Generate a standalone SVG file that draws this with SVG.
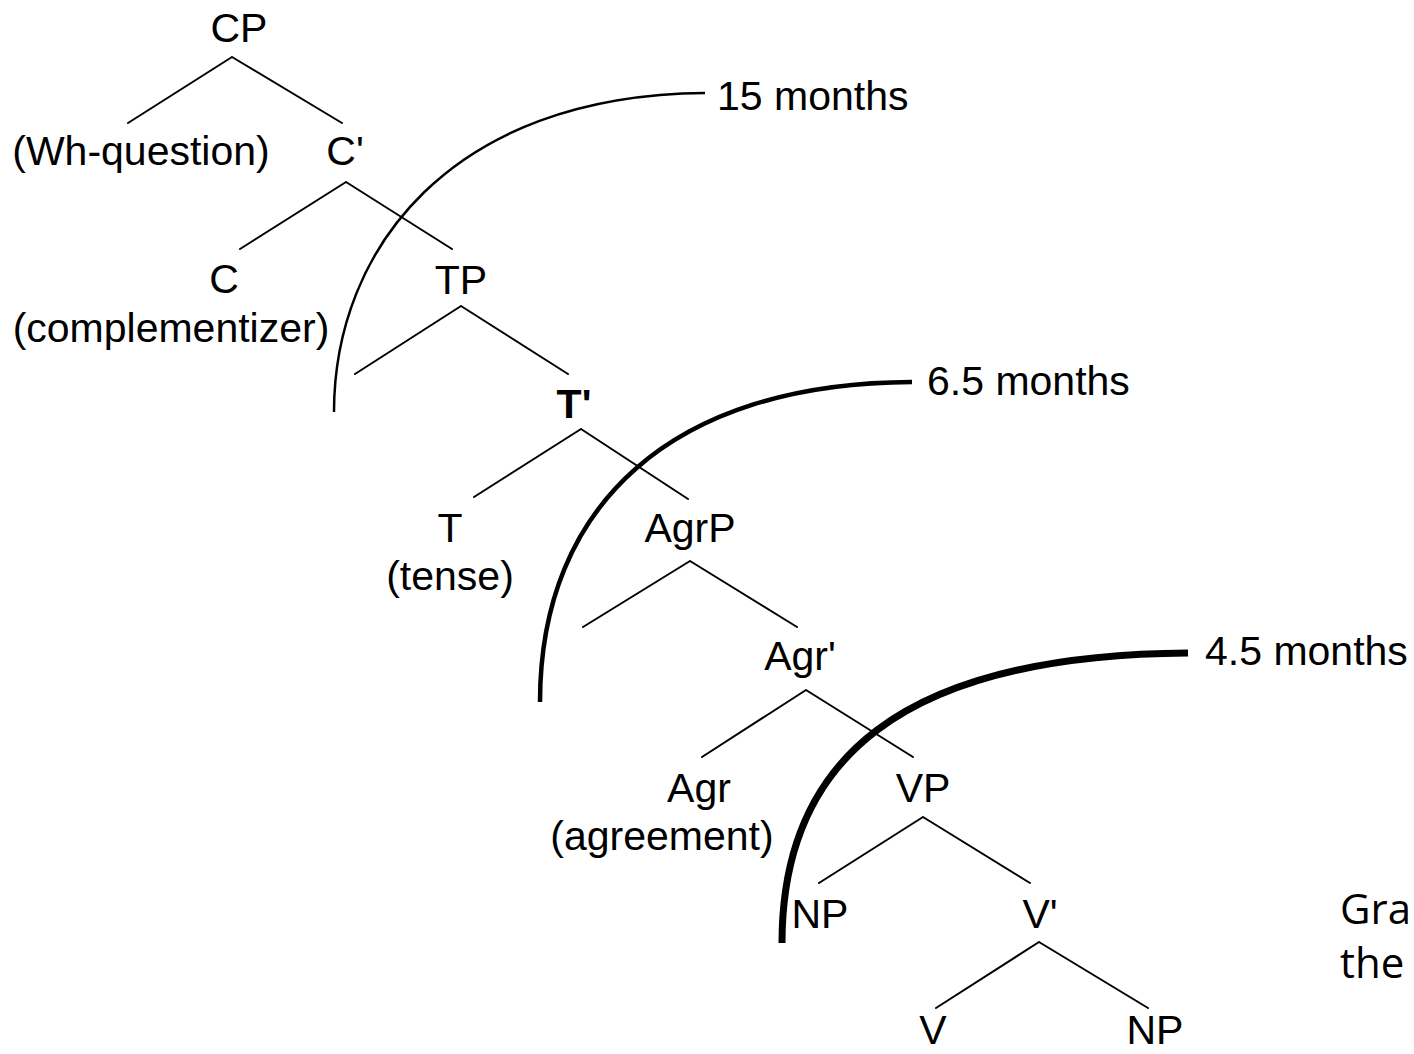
<svg xmlns="http://www.w3.org/2000/svg" width="1414" height="1054" viewBox="0 0 1414 1054">
<style>
.lbl{font-family:"Liberation Sans",Arial,sans-serif;font-size:41px;fill:#000;text-anchor:middle}
.mo{font-family:"Liberation Sans",Arial,sans-serif;font-size:41px;fill:#000}
.side{font-family:"Open Sans","Noto Sans",sans-serif;font-size:42px;fill:#000}
.edge{stroke:#000;stroke-width:2;fill:none;stroke-linecap:round}
.arc{stroke:#000;fill:none}
</style>
<rect width="1414" height="1054" fill="#fff"/>
<g id="connectors">
<path class="edge" d="M232,57L128,123M232,57L342,123"/>
<path class="edge" d="M346,182L240,249M346,182L452,249"/>
<path class="edge" d="M461,306L355,374M461,306L568,374"/>
<path class="edge" d="M581,429L474,497M581,429L688,499"/>
<path class="edge" d="M690,561L583,627M690,561L797,627"/>
<path class="edge" d="M806,690L702,757M806,690L913,757"/>
<path class="edge" d="M923,817L819,883M923,817L1030,883"/>
<path class="edge" d="M1039,942L936,1008M1039,942L1148,1008"/>
</g>
<g id="boundaries">
<path class="arc" stroke-width="2.5" d="M334,412C334,250 450,95 705,93"/>
<path class="arc" stroke-width="4.5" d="M540,702C540,505 672,383 912,382"/>
<path class="arc" stroke-width="7" d="M782,943C782,760 900,655 1188,653"/>
</g>
<g id="n-CP"><text class="lbl" x="239" y="42">CP</text></g>
<g id="n-Wh"><text class="lbl" x="141" y="165">(Wh-question)</text></g>
<g id="n-Cbar"><text class="lbl" x="345" y="165">C'</text></g>
<g id="n-C"><text class="lbl" x="224" y="293">C</text><text class="lbl" x="171" y="342">(complementizer)</text></g>
<g id="n-TP"><text class="lbl" x="461" y="294">TP</text></g>
<g id="n-Tbar"><text class="lbl" x="574" y="418" font-weight="bold">T'</text></g>
<g id="n-T"><text class="lbl" x="450" y="542">T</text><text class="lbl" x="450" y="590">(tense)</text></g>
<g id="n-AgrP"><text class="lbl" x="690" y="542">AgrP</text></g>
<g id="n-Agrbar"><text class="lbl" x="800" y="670">Agr'</text></g>
<g id="n-Agr"><text class="lbl" x="699" y="802">Agr</text><text class="lbl" x="662" y="850">(agreement)</text></g>
<g id="n-VP"><text class="lbl" x="923" y="802">VP</text></g>
<g id="n-NP1"><text class="lbl" x="820" y="928">NP</text></g>
<g id="n-Vbar"><text class="lbl" x="1040" y="928">V'</text></g>
<g id="n-V"><text class="lbl" x="933" y="1044">V</text></g>
<g id="n-NP2"><text class="lbl" x="1155" y="1044">NP</text></g>
<g id="labels">
<text class="mo" x="717" y="110">15 months</text>
<text class="mo" x="927" y="395">6.5 months</text>
<text class="mo" x="1205" y="665">4.5 months</text>
</g>
<g id="side-text">
<text class="side" x="1340" y="924">Gra</text>
<text class="side" x="1340" y="978">the</text>
</g>
</svg>
